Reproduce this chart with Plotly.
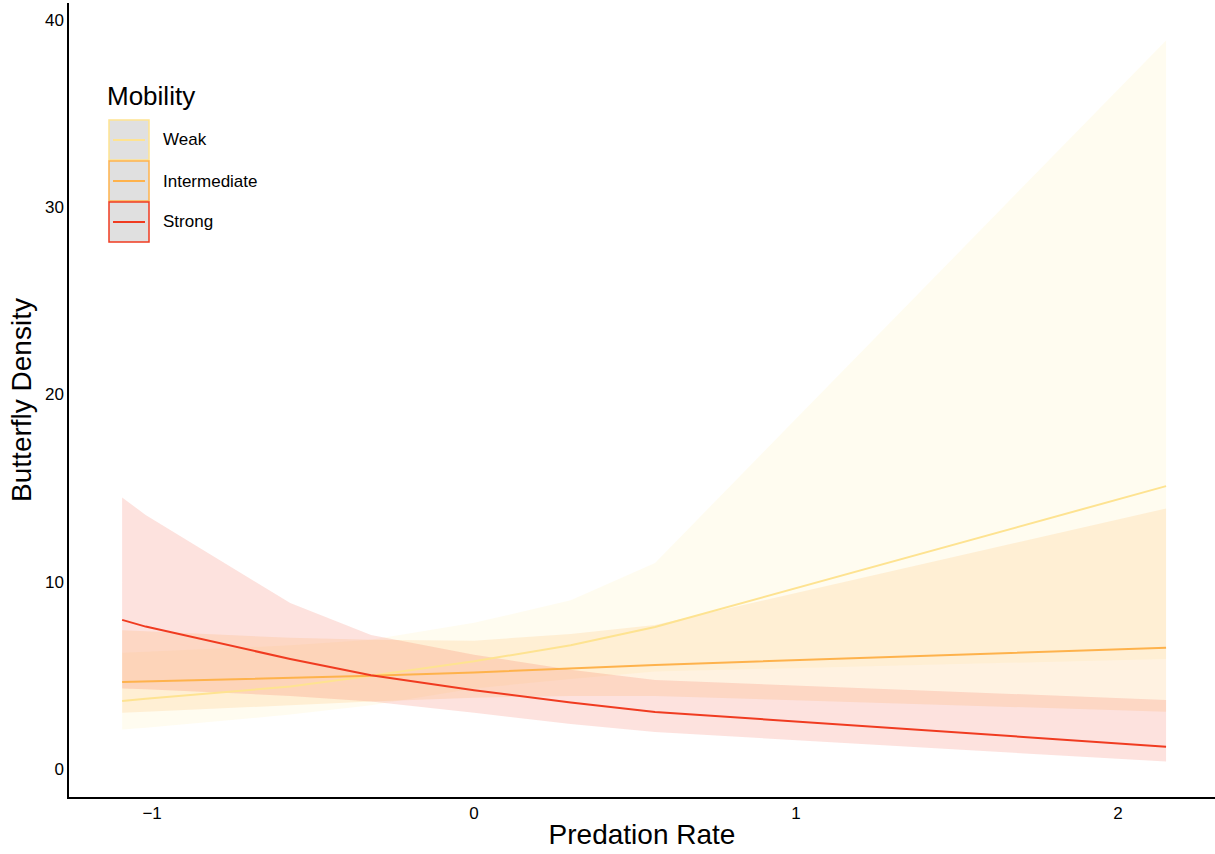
import plotly.graph_objects as go

# ---- data ----
predation = [-1.093, -1.02, -0.571, -0.32, 0.0, 0.3, 0.562, 2.149]

weak_fit = [3.63, 3.75, 4.4, 4.97, 5.75, 6.6, 7.58, 15.1]
weak_lo = [2.1, 2.2, 2.9, 3.4, 4.3, 4.8, 5.2, 5.87]
weak_hi = [6.2, 6.25, 6.6, 6.9, 7.8, 9.0, 11.0, 38.9]

inter_fit = [4.64, 4.67, 4.85, 4.97, 5.15, 5.35, 5.55, 6.47]
inter_lo = [3.0, 3.05, 3.4, 3.6, 3.8, 3.9, 3.9, 3.05]
inter_hi = [7.4, 7.35, 7.0, 6.9, 6.85, 7.2, 7.68, 13.9]

strong_fit = [7.96, 7.6, 5.87, 5.0, 4.2, 3.55, 3.04, 1.19]
strong_lo = [4.3, 4.25, 3.9, 3.6, 3.0, 2.4, 1.97, 0.39]
strong_hi = [14.5, 13.56, 8.86, 7.15, 6.1, 5.3, 4.75, 3.68]

groups = ["Weak", "Intermediate", "Strong"]
line_colors = ["#FEE391", "#FEB24C", "#F03B20"]
fill_colors = ["rgba(255,237,160,0.16)", "rgba(254,178,76,0.17)", "rgba(240,59,32,0.15)"]
series = [(weak_fit, weak_lo, weak_hi), (inter_fit, inter_lo, inter_hi),
          (strong_fit, strong_lo, strong_hi)]

xticks = [-1, 0, 1, 2]
xtick_text = ["\u22121", "0", "1", "2"]
yticks = [0, 10, 20, 30, 40]

fig = go.Figure()

for name, (fit, lo, hi), fc in zip(groups, series, fill_colors):
    fig.add_trace(go.Scatter(
        x=predation + predation[::-1], y=hi + lo[::-1],
        fill="toself", fillcolor=fc, mode="none", line=dict(width=0),
        showlegend=False, hoverinfo="skip"))

for name, (fit, lo, hi), lc in zip(groups, series, line_colors):
    fig.add_trace(go.Scatter(
        x=predation, y=fit, mode="lines", name=name,
        line=dict(color=lc, width=2), showlegend=False))

# ---- custom legend (ggplot-style keys) ----
font = "Liberation Sans, Arial, Helvetica, sans-serif"
W, H = 1215, 854
shapes = []
annotations = []
key_top = 120
for i, (name, lc) in enumerate(zip(groups, line_colors)):
    y0 = key_top + i * 41
    y1 = y0 + 40
    shapes.append(dict(type="rect", xref="paper", yref="paper",
                       x0=(109 - 69) / (W - 69), x1=(149 - 69) / (W - 69),
                       y0=1 - (y1 - 3) / 794, y1=1 - (y0 - 3) / 794,
                       fillcolor="#E0E0E0", line=dict(color=lc, width=1.5), layer="above"))
    yc = (y0 + y1) / 2
    shapes.append(dict(type="line", xref="paper", yref="paper",
                       x0=(113 - 69) / (W - 69), x1=(145 - 69) / (W - 69),
                       y0=1 - (yc - 3) / 794, y1=1 - (yc - 3) / 794,
                       line=dict(color=lc, width=2), layer="above"))
    annotations.append(dict(text=name, xref="paper", yref="paper",
                            x=(161 - 69) / (W - 69), y=1 - (yc - 3) / 794,
                            xanchor="left", yanchor="middle", showarrow=False,
                            font=dict(family=font, size=17, color="black")))
annotations.append(dict(text="Mobility", xref="paper", yref="paper",
                        x=(105 - 69) / (W - 69), y=1 - (96 - 3) / 794,
                        xanchor="left", yanchor="middle", showarrow=False,
                        font=dict(family=font, size=26, color="black")))

fig.update_layout(
    width=W, height=H,
    margin=dict(l=69, r=0, t=3, b=57),
    plot_bgcolor="white", paper_bgcolor="white",
    font=dict(family=font, color="black"),
    shapes=shapes, annotations=annotations,
    showlegend=False,
    xaxis=dict(range=[-1.258, 2.301], tickvals=xticks, ticktext=xtick_text,
               showgrid=False, zeroline=False, showline=True, linecolor="black",
               linewidth=1.5, ticks="", tickfont=dict(size=17, color="black"),
               title=dict(text="Predation Rate", font=dict(size=28, color="black"), standoff=2)),
    yaxis=dict(range=[-1.5, 40.9], tickvals=yticks,
               showgrid=False, zeroline=False, showline=True, linecolor="black",
               linewidth=1.5, ticks="", tickfont=dict(size=17, color="black"),
               title=dict(text="Butterfly Density", font=dict(size=28, color="black"), standoff=5)),
)

fig.write_html("out.html")
